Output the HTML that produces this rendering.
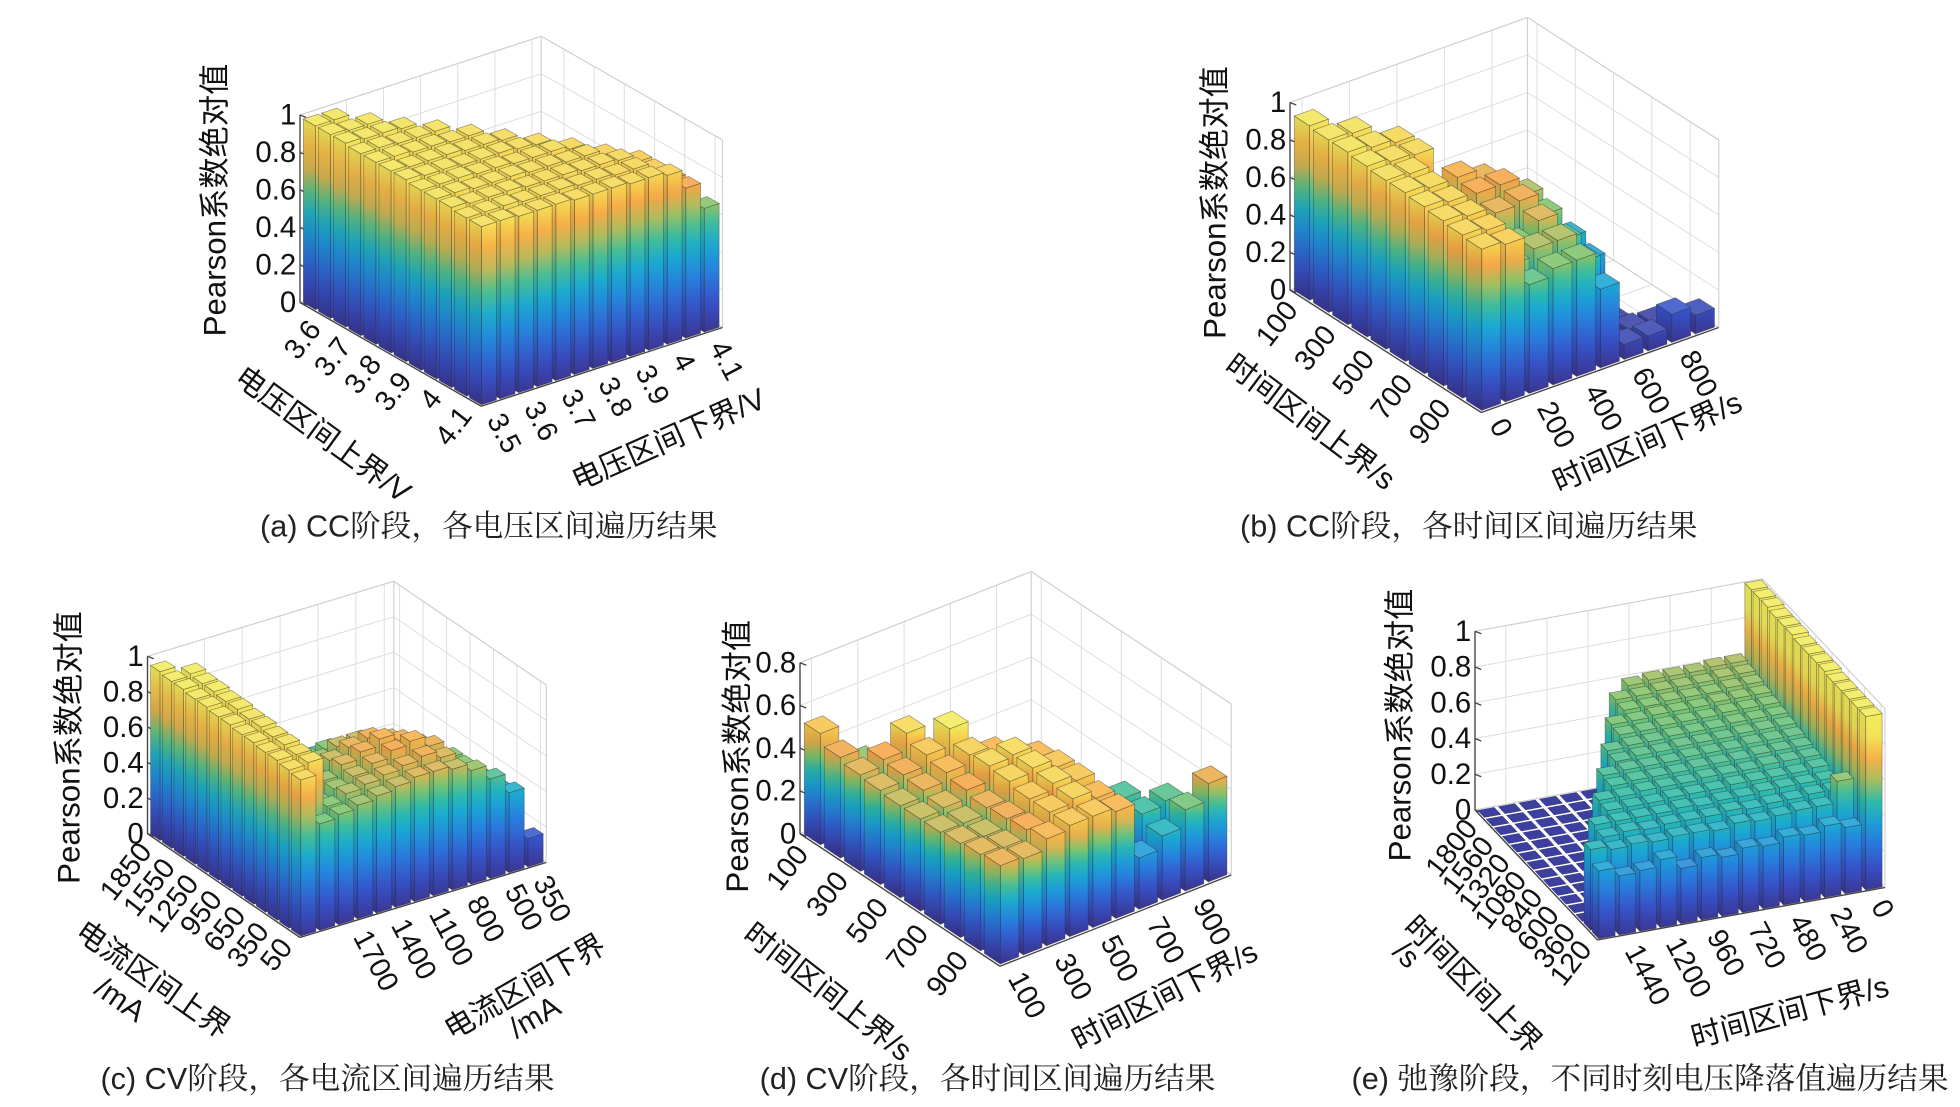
<!DOCTYPE html>
<html><head><meta charset="utf-8"><title>Pearson traversal results</title>
<style>
html,body{margin:0;padding:0;background:#fff;}
svg{display:block;}
text{font-family:"Liberation Sans","Noto Sans CJK SC",sans-serif;fill:#111;}
.cap{font-family:"Liberation Sans","Noto Serif CJK SC",serif;font-size:24.5px;fill:#222;}
</style></head>
<body>
<svg id="fig" xmlns="http://www.w3.org/2000/svg" width="1960" height="1107" viewBox="0 0 1568 885.6">
<defs id="defs"></defs>
<text class="cap" x="391" y="429" text-anchor="middle">(a) CC阶段，各电压区间遍历结果</text>
<text class="cap" x="1175" y="429" text-anchor="middle">(b) CC阶段，各时间区间遍历结果</text>
<text class="cap" x="262" y="871" text-anchor="middle">(c) CV阶段，各电流区间遍历结果</text>
<text class="cap" x="790" y="871" text-anchor="middle">(d) CV阶段，各时间区间遍历结果</text>
<text class="cap" x="1320" y="871" text-anchor="middle">(e) 弛豫阶段，不同时刻电压降落值遍历结果</text>
</svg>
<script>
// ---------- data (rows: u=0 is front row along the left axis; v along right axis) ----------
const aRows=[
[0.95,0.95,0.94,0.94,0.94,0.93,0.93,0.93,0.92,0.92,0.90,0.80,0.66],
[0.95,0.95,0.95,0.94,0.94,0.94,0.93,0.93,0.92,0.92,0.88,0.80],
[0.96,0.95,0.95,0.95,0.94,0.94,0.94,0.93,0.93,0.92,0.88],
[0.96,0.96,0.95,0.95,0.95,0.94,0.94,0.93,0.93,0.90],
[0.96,0.96,0.96,0.95,0.95,0.94,0.94,0.94,0.92],
[0.97,0.96,0.96,0.95,0.95,0.95,0.94,0.93],
[0.97,0.96,0.96,0.96,0.95,0.95,0.94],
[0.97,0.97,0.96,0.96,0.95,0.95],
[0.97,0.97,0.96,0.96,0.96],
[0.98,0.97,0.97,0.96],
[0.98,0.97,0.97],
[0.98,0.98]];
const aZTicks=[0,0.2,0.4,0.6,0.8,1];
const aLeftLabels=['3.6','3.7','3.8','3.9','4','4.1'];
const aLeftCells=[10.5,8.5,6.5,4.5,2.5,0.5];
const aRightLabels=['3.5','3.6','3.7','3.8','3.9','4','4.1'];
const aRightCells=[0.5,2.5,4.5,6.5,8.5,10.5,12.5];

const bRows=[
[0.86,0.84,0.58,0.62,0.62,0.42,0.08,0.08,0.15,0.10],
[0.87,0.85,0.62,0.66,0.66,0.50,0.05,0.05,0.04],
[0.88,0.86,0.55,0.62,0.70,0.55,0.40,0.03],
[0.89,0.87,0.64,0.72,0.74,0.62,0.45],
[0.90,0.88,0.62,0.76,0.76,0.66],
[0.90,0.89,0.60,0.78,0.72],
[0.91,0.89,0.88,0.40],
[0.92,0.90,0.88],
[0.92,0.91],
[0.93]];
const bZTicks=[0,0.2,0.4,0.6,0.8,1];
const bLeftLabels=['100','300','500','700','900'];
const bLeftCells=[9.5,7.5,5.5,3.5,1.5];
const bRightLabels=['0','200','400','600','800'];
const bRightCells=[0.5,2.5,4.5,6.5,8.5];

const cRows=[
[0.88,0.60,0.62,0.64,0.66,0.68,0.70,0.70,0.68,0.64,0.56,0.45,0.16],
[0.89,0.90,0.62,0.66,0.68,0.70,0.72,0.74,0.70,0.62,0.52,0.42],
[0.90,0.90,0.60,0.64,0.68,0.72,0.76,0.78,0.72,0.62,0.48],
[0.90,0.91,0.58,0.64,0.70,0.74,0.78,0.74,0.68,0.58],
[0.91,0.91,0.56,0.62,0.68,0.72,0.74,0.70,0.64],
[0.91,0.92,0.55,0.60,0.64,0.68,0.68,0.64],
[0.92,0.92,0.52,0.56,0.60,0.62,0.60],
[0.92,0.93,0.50,0.52,0.56,0.54],
[0.93,0.93,0.48,0.50,0.48],
[0.93,0.94,0.46,0.44],
[0.94,0.94,0.45],
[0.94,0.95],
[0.95]];
const cZTicks=[0,0.2,0.4,0.6,0.8,1];
const cLeftLabels=['1850','1550','1250','950','650','350','50'];
const cLeftCells=[12.5,10.5,8.5,6.5,4.5,2.5,0.5];
const cRightLabels=['1700','1400','1100','800','500','350'];
const cRightCells=[3,5,7,9,11,12.5];

const dRows=[
[0.46,0.45,0.50,0.52,0.52,0.50,0.24,0.30,0.38,0.46],
[0.45,0.44,0.48,0.52,0.54,0.50,0.14,0.34,0.36],
[0.44,0.43,0.47,0.52,0.55,0.52,0.20,0.35],
[0.43,0.43,0.46,0.54,0.56,0.52,0.30],
[0.43,0.44,0.48,0.55,0.56,0.50],
[0.43,0.46,0.50,0.54,0.50],
[0.44,0.47,0.52,0.60],
[0.45,0.48,0.56],
[0.47,0.40],
[0.52]];
const dZTicks=[0,0.2,0.4,0.6,0.8];
const dLeftLabels=['100','300','500','700','900'];
const dLeftCells=[9.5,7.5,5.5,3.5,1.5];
const dRightLabels=['100','300','500','700','900'];
const dRightCells=[0.5,2.5,4.5,6.5,8.5];

const eRows=[
[0.38,0.33,0.34,0.38,0.31,0.35,0.33,0.36,0.35,0.38,0.37,0.40,0.37,0.97],
[0.45,0.43,0.44,0.43,0.44,0.44,0.43,0.45,0.44,0.45,0.46,0.46,0.58,0.97],
[0,0.45,0.46,0.45,0.46,0.46,0.46,0.47,0.46,0.47,0.47,0.48,0.48,0.97],
[0,0.47,0.47,0.47,0.47,0.48,0.47,0.48,0.48,0.49,0.49,0.49,0.49,0.97],
[0,0,0.48,0.48,0.48,0.49,0.49,0.49,0.50,0.50,0.50,0.50,0.51,0.97],
[0,0,0.49,0.49,0.50,0.50,0.50,0.51,0.51,0.51,0.52,0.52,0.52,0.98],
[0,0,0,0.50,0.51,0.51,0.51,0.52,0.52,0.52,0.53,0.53,0.53,0.98],
[0,0,0,0.51,0.52,0.52,0.52,0.53,0.53,0.53,0.54,0.54,0.54,0.98],
[0,0,0,0,0.52,0.53,0.53,0.54,0.54,0.54,0.55,0.55,0.55,0.98],
[0,0,0,0,0.53,0.54,0.54,0.55,0.55,0.55,0.56,0.56,0.56,0.99],
[0,0,0,0,0,0.55,0.55,0.56,0.56,0.56,0.57,0.57,0.57,0.99],
[0,0,0,0,0,0.56,0.56,0.57,0.57,0.57,0.58,0.58,0.58,0.99],
[0,0,0,0,0,0,0.57,0.57,0.58,0.58,0.58,0.59,0.59,1.00],
[0,0,0,0,0,0,0.58,0.58,0.59,0.59,0.59,0.60,0.60,1.00],
[0,0,0,0,0,0,0,0.59,0.60,0.60,0.60,0.61,0.61,1.00]];
const eZTicks=[0,0.2,0.4,0.6,0.8,1];
const eLeftLabels=['1800','1560','1320','1080','840','600','360','120'];
const eLeftCells=[14.5,12.5,10.5,8.5,6.5,4.5,2.5,0.5];
const eRightLabels=['1440','1200','960','720','480','240','0'];
const eRightCells=[1.5,3.5,5.5,7.5,9.5,11.5,13.5];

// ---------- layout (screen geometry, not data) ----------
const panels=[
 {key:'a',rows:aRows,zt:aZTicks,ll:aLeftLabels,lc:aLeftCells,rl:aRightLabels,rc:aRightCells,N:12,M:13,
  BL:[240,242],F:[385,325],R:[578,262],zs:150,zmax:1,clim:1.0,
  ylab:[172,160],lt:{t:'电压区间上界/V',x:258,y:348,r:36},rt:{t:'电压区间下界/V',x:535,y:352,r:-24}},
 {key:'b',rows:bRows,zt:bZTicks,ll:bLeftLabels,lc:bLeftCells,rl:bRightLabels,rc:bRightCells,N:10,M:10,
  BL:[1032,232],F:[1185,330],R:[1375,262],zs:150,zmax:1,clim:0.95,
  ylab:[972,162],lt:{t:'时间区间上界/s',x:1048,y:338,r:37},rt:{t:'时间区间下界/s',x:1318,y:354,r:-24}},
 {key:'c',rows:cRows,zt:cZTicks,ll:cLeftLabels,lc:cLeftCells,rl:cRightLabels,rc:cRightCells,N:13,M:13,
  BL:[118,667],F:[240,750],R:[437,690],zs:142,zmax:1,clim:0.95,
  ylab:[55,598],lt:{t:'电流区间上界',x:122,y:784,r:35},lt2:{t:'/mA',x:96,y:800,r:35},
  rt:{t:'电流区间下界',x:420,y:790,r:-30},rt2:{t:'/mA',x:428,y:814,r:-30}},
 {key:'d',rows:dRows,zt:dZTicks,ll:dLeftLabels,lc:dLeftCells,rl:dRightLabels,rc:dRightCells,N:10,M:10,
  BL:[640,667],F:[800,773],R:[985,700],zs:171,zmax:0.8,clim:0.6,
  ylab:[590,605],lt:{t:'时间区间上界/s',x:662,y:794,r:38},rt:{t:'时间区间下界/s',x:932,y:797,r:-27}},
 {key:'e',rows:eRows,zt:eZTicks,ll:eLeftLabels,lc:eLeftCells,rl:eRightLabels,rc:eRightCells,N:15,M:14,
  BL:[1180,648],F:[1278,752],R:[1508,710],zs:143,zmax:1,clim:0.88,
  ylab:[1120,580],lt:{t:'时间区间上界',x:1178,y:788,r:45},lt2:{t:'/s',x:1125,y:764,r:45},
  rt:{t:'时间区间下界/s',x:1432,y:810,r:-15}}
];

const NS='http://www.w3.org/2000/svg';
const svg=document.getElementById('fig');
const defs=document.getElementById('defs');
function mk(tag,attrs,parent){const e=document.createElementNS(NS,tag);for(const k in attrs)e.setAttribute(k,attrs[k]);parent.appendChild(e);return e;}

const STOPS=[[0,[58,56,150]],[0.15,[55,82,200]],[0.3,[40,125,222]],[0.45,[25,168,212]],[0.55,[45,187,170]],[0.65,[125,196,108]],[0.74,[222,180,80]],[0.8,[246,165,70]],[0.88,[246,202,76]],[1,[242,236,92]]];
function cmap(t,l){t=Math.max(0,Math.min(1,t));let i=0;while(i<STOPS.length-2&&t>STOPS[i+1][0])i++;
 const a=STOPS[i],b=STOPS[i+1],f=(t-a[0])/(b[0]-a[0]);l=l||0;
 const c=a[1].map((x,k)=>{let v=x+(b[1][k]-x)*f;v=v+(255-v)*l;return Math.round(v);});return 'rgb('+c.join(',')+')';}

function P(pn,u,v,z){const a=u/pn.N,b=v/pn.M;
 return [pn.F[0]+a*(pn.BL[0]-pn.F[0])+b*(pn.R[0]-pn.F[0]), pn.F[1]+a*(pn.BL[1]-pn.F[1])+b*(pn.R[1]-pn.F[1])-z*pn.zs];}
function pts(arr){return arr.map(p=>p[0].toFixed(2)+','+p[1].toFixed(2)).join(' ');}
function line(g,p,q,st,w){return mk('line',{x1:p[0],y1:p[1],x2:q[0],y2:q[1],stroke:st,'stroke-width':w},g);}
function grad(id,x,y0,y1,h,clim){const lg=mk('linearGradient',{id:id,gradientUnits:'userSpaceOnUse',x1:x,x2:x,y1:y0,y2:y1},defs);
 for(let k=0;k<=8;k++){mk('stop',{offset:k/8,'stop-color':cmap((k/8)*h/clim)},lg);}return 'url(#'+id+')';}

panels.forEach(pn=>{
 const g=mk('g',{},svg);
 
 
 const N=pn.N,M=pn.M,zm=pn.zmax;
 const grid=mk('g',{},g);
 
 
 const gc='#dedede';
 pn.zt.forEach(z=>{line(grid,P(pn,N,0,z),P(pn,N,M,z),gc,0.8);line(grid,P(pn,N,M,z),P(pn,0,M,z),gc,0.8);});
 pn.rc.forEach(v=>{line(grid,P(pn,N,v,0),P(pn,N,v,zm),gc,0.8);line(grid,P(pn,0,v,0),P(pn,N,v,0),gc,0.8);});
 pn.lc.forEach(u=>{line(grid,P(pn,u,M,0),P(pn,u,M,zm),gc,0.8);line(grid,P(pn,u,0,0),P(pn,u,M,0),gc,0.8);});
 const bc='#cfcfcf';
 line(grid,P(pn,N,0,zm),P(pn,N,M,zm),bc,0.9);line(grid,P(pn,N,M,zm),P(pn,0,M,zm),bc,0.9);
 line(grid,P(pn,N,M,0),P(pn,N,M,zm),bc,0.9);line(grid,P(pn,0,M,0),P(pn,0,M,zm),bc,0.9);
 line(grid,P(pn,N,0,0),P(pn,N,M,0),bc,0.9);line(grid,P(pn,N,M,0),P(pn,0,M,0),bc,0.9);
 const ax=mk('g',{},g);
 
 
 line(ax,P(pn,N,0,0),P(pn,N,0,zm),'#444',1.1);
 line(ax,P(pn,N,0,0),P(pn,0,0,0),'#444',1.1);
 line(ax,P(pn,0,0,0),P(pn,0,M,0),'#444',1.1);
 pn.zt.forEach(z=>{const p=P(pn,N,0,z);line(ax,p,[p[0]+5,p[1]+2],'#444',1);
  const t=mk('text',{x:p[0]-3,y:p[1],'text-anchor':'end','dominant-baseline':'central','font-size':23.5},ax);
  
  
  t.textContent=(z===0?'0':(z===1?'1':z.toFixed(1)));});
 const cells=[];
 pn.rows.forEach((row,u)=>row.forEach((h,v)=>cells.push([u,v,h])));
 cells.sort((a,b)=>(b[0]+b[1])-(a[0]+a[1]));
 const bg=mk('g',{},g);
 
 
 const gp=0.1;
 cells.forEach(([u,v,h])=>{
  const u0=u+gp,u1=u+1-gp,v0=v+gp,v1=v+1-gp;
  const bar=mk('g',{},bg);
  
  
  if(h<=0.005){
   mk('polygon',{points:pts([P(pn,u0,v0,0),P(pn,u0,v1,0),P(pn,u1,v1,0),P(pn,u1,v0,0)]),fill:'#3d3f9e',stroke:'#34367f','stroke-width':0.4},bar);
   return;}
  const st='rgba(45,45,45,0.45)';
  const f1=[P(pn,u0,v0,0),P(pn,u0,v1,0),P(pn,u0,v1,h),P(pn,u0,v0,h)];
  const cx1=(f1[0][0]+f1[1][0])/2,yb1=(f1[0][1]+f1[1][1])/2,yt1=(f1[2][1]+f1[3][1])/2;
  mk('polygon',{points:pts(f1),fill:grad('g'+pn.key+u+'_'+v+'a',cx1,yb1,yt1,h,pn.clim),stroke:st,'stroke-width':0.6},bar);
  const f2=[P(pn,u0,v0,0),P(pn,u1,v0,0),P(pn,u1,v0,h),P(pn,u0,v0,h)];
  const cx2=(f2[0][0]+f2[1][0])/2,yb2=(f2[0][1]+f2[1][1])/2,yt2=(f2[2][1]+f2[3][1])/2;
  mk('polygon',{points:pts(f2),fill:grad('g'+pn.key+u+'_'+v+'b',cx2,yb2,yt2,h,pn.clim),stroke:st,'stroke-width':0.6},bar);
  mk('polygon',{points:pts(f2),fill:'rgba(0,0,0,0.07)',stroke:'none'},bar);
  mk('polygon',{points:pts([P(pn,u0,v0,h),P(pn,u0,v1,h),P(pn,u1,v1,h),P(pn,u1,v0,h)]),fill:cmap(h/pn.clim,0.12),stroke:st,'stroke-width':0.6},bar);
 });
 pn.ll.forEach((lab,i)=>{const p=P(pn,pn.lc[i],0,0);const x=p[0]-6,y=p[1]+7;
  const t=mk('text',{x:x,y:y,'text-anchor':'end','dominant-baseline':'central','font-size':23,transform:'rotate(-52 '+x+' '+y+')'},g);
  
  
  t.textContent=lab;});
 pn.rl.forEach((lab,i)=>{const p=P(pn,0,pn.rc[i],0);const x=p[0]+3,y=p[1]+10;
  const t=mk('text',{x:x,y:y,'text-anchor':'start','dominant-baseline':'central','font-size':23,transform:'rotate(62 '+x+' '+y+')'},g);
  
  
  t.textContent=lab;});
 const yl=mk('text',{x:pn.ylab[0],y:pn.ylab[1],'text-anchor':'middle','dominant-baseline':'central','font-size':25,transform:'rotate(-90 '+pn.ylab[0]+' '+pn.ylab[1]+')'},g);
 
 
 yl.textContent='Pearson系数绝对值';
 [['lt','left-axis-title'],['lt2','left-axis-unit'],['rt','right-axis-title'],['rt2','right-axis-unit']].forEach(([k,nm])=>{
  const o=pn[k];if(!o)return;
  const t=mk('text',{x:o.x,y:o.y,'text-anchor':'middle','dominant-baseline':'central','font-size':24,transform:'rotate('+o.r+' '+o.x+' '+o.y+')'},g);
  
  
  t.textContent=o.t;});
});
</script>
</body></html>
